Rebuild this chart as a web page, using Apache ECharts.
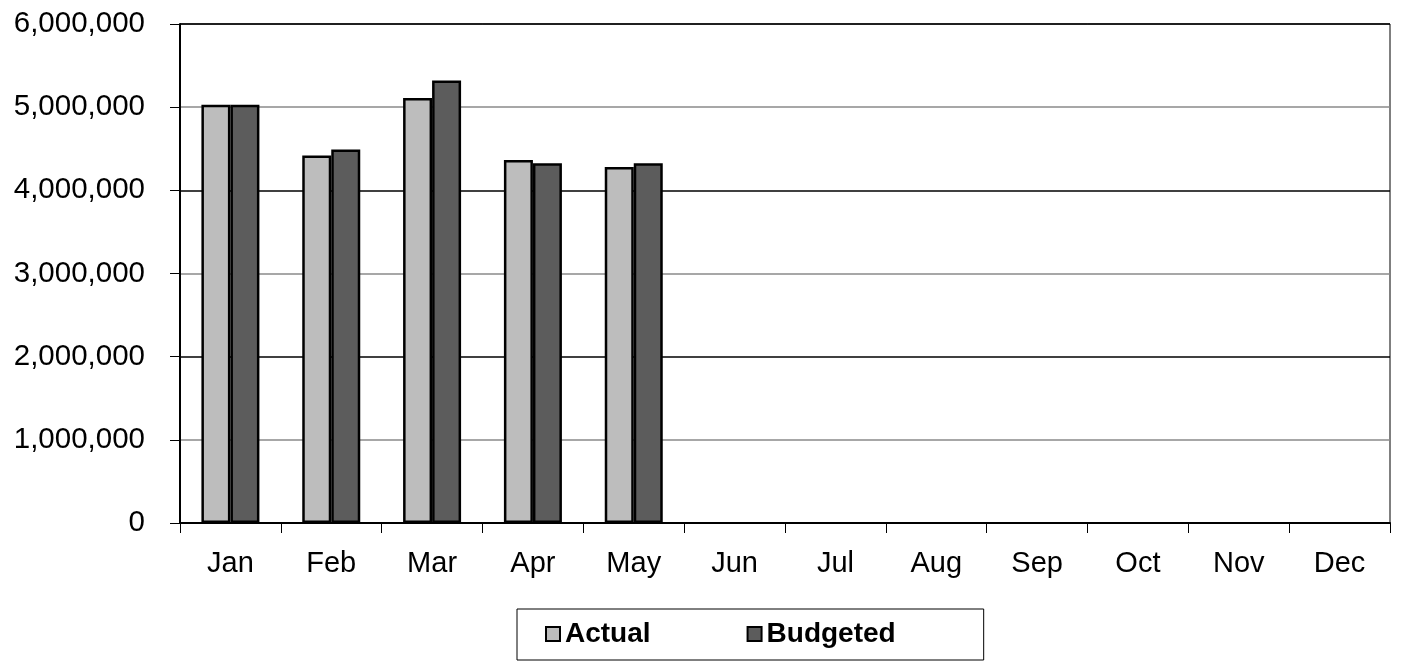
<!DOCTYPE html>
<html>
<head>
<meta charset="utf-8">
<script src="https://cdn.jsdelivr.net/npm/echarts@6/dist/echarts.min.js"></script>
<style>html,body{margin:0;padding:0;background:#fff;}#c{width:1402px;height:663px;}</style>
</head>
<body>
<div id="c"></div>
<script>
const months = ['Jan','Feb','Mar','Apr','May','Jun','Jul','Aug','Sep','Oct','Nov','Dec'];
const actual = [5030000, 4420000, 5110000, 4365000, 4280000, null, null, null, null, null, null, null];
const budgeted = [5030000, 4490000, 5320000, 4325000, 4325000, null, null, null, null, null, null, null];
const seriesNames = ['Actual', 'Budgeted'];

const chart = echarts.init(document.getElementById('c'), null, {renderer: 'canvas'});
const font = '"Liberation Sans", Arial, sans-serif';
chart.setOption({
  animation: false,
  backgroundColor: '#fff',
  grid: {left: 180, right: 12, top: 24, bottom: 140, show: true, borderColor: '#000', borderWidth: 1, backgroundColor: 'transparent'},
  legend: {
    left: 517, top: 609,
    padding: [11, 88, 12, 28],
    itemGap: 96,
    itemWidth: 14, itemHeight: 14,
    icon: 'rect',
    borderColor: '#000', borderWidth: 1,
    textStyle: {fontFamily: font, fontSize: 28, fontWeight: 'bold', color: '#000'},
    data: seriesNames
  },
  xAxis: {
    type: 'category',
    data: months,
    boundaryGap: true,
    axisLine: {lineStyle: {color: '#000', width: 2}},
    axisTick: {show: true, length: 10, lineStyle: {color: '#000', width: 1}},
    axisLabel: {fontFamily: font, fontSize: 29, color: '#000', margin: 26}
  },
  yAxis: {
    type: 'value',
    min: 0, max: 6000000, interval: 1000000,
    axisLine: {show: true, lineStyle: {color: '#000', width: 2}},
    axisTick: {show: true, length: 10, lineStyle: {color: '#000'}},
    axisLabel: {fontFamily: font, fontSize: 29.5, color: '#000', margin: 35,
      formatter: v => v.toLocaleString('en-US')},
    splitLine: {show: true, lineStyle: {color: ['#000', '#8a8a8a'], width: 1.5}}
  },
  series: [
    {name: seriesNames[0], type: 'bar', data: actual, barWidth: 29, barGap: '0%',
     itemStyle: {color: '#bdbdbd', borderColor: '#000', borderWidth: 2.5}},
    {name: seriesNames[1], type: 'bar', data: budgeted, barWidth: 29,
     itemStyle: {color: '#5c5c5c', borderColor: '#000', borderWidth: 2.5}}
  ]
});
</script>
</body>
</html>
